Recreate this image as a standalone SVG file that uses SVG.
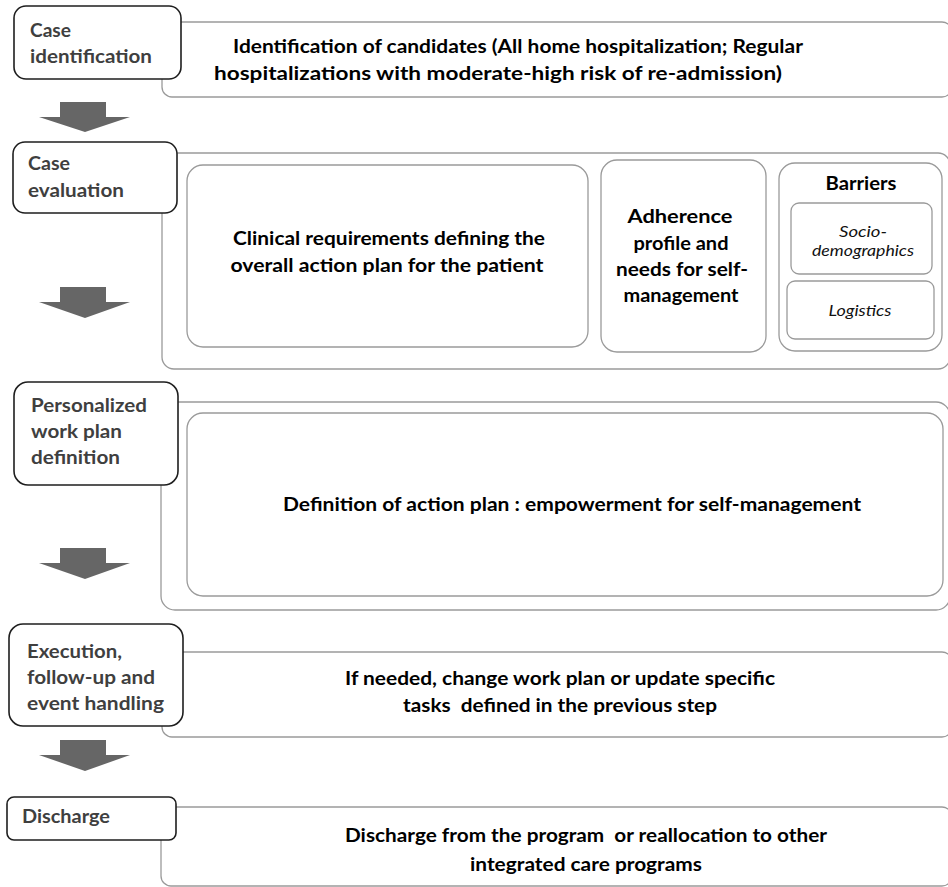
<svg xmlns="http://www.w3.org/2000/svg" width="948" height="887" viewBox="0 0 948 887">
<style>
.panel{fill:#fff;stroke:#9a9a9a;stroke-width:1.3}
.inner{fill:#fff;stroke:#9a9a9a;stroke-width:1.3}
.label{fill:#fff;stroke:#1e1e1e;stroke-width:1.6}
.lt{font-family:Lato,"Open Sans","Liberation Sans",sans-serif;font-weight:700;font-size:18px;fill:#3f3f3f}
.mt{font-family:Lato,"Open Sans","Liberation Sans",sans-serif;font-weight:700;font-size:18px;fill:#000;text-anchor:middle}
.it{font-family:Lato,"Open Sans","Liberation Sans",sans-serif;font-style:italic;font-size:15px;fill:#111;text-anchor:middle}
.pre{white-space:pre}
.arr{fill:#666}
</style>
<rect width="948" height="887" fill="#fff"/>

<g id="step1">
  <rect class="panel" x="162" y="22" width="790" height="75" rx="10"/>
  <rect class="label" x="14" y="6" width="167" height="73" rx="12"/>
  <text class="lt" x="30" y="37" textLength="41" lengthAdjust="spacingAndGlyphs">Case</text>
  <text class="lt" x="30" y="63" textLength="122" lengthAdjust="spacingAndGlyphs">identification</text>
  <text class="mt" x="518" y="53" textLength="570" lengthAdjust="spacingAndGlyphs">Identification of candidates (All home hospitalization; Regular</text>
  <text class="mt" x="498" y="80" textLength="568" lengthAdjust="spacingAndGlyphs">hospitalizations with moderate-high risk of re-admission)</text>
</g>

<g id="step2">
  <rect class="panel" x="162" y="153" width="788" height="216" rx="12"/>
  <rect class="label" x="13" y="142" width="164" height="71" rx="12"/>
  <text class="lt" x="28" y="170" textLength="42" lengthAdjust="spacingAndGlyphs">Case</text>
  <text class="lt" x="28" y="197" textLength="96" lengthAdjust="spacingAndGlyphs">evaluation</text>
  <g id="clinical">
    <rect class="inner" x="187" y="165" width="401" height="182" rx="16"/>
    <text class="mt" x="389" y="245" textLength="312" lengthAdjust="spacingAndGlyphs">Clinical requirements defining the</text>
    <text class="mt" x="387" y="272" textLength="313" lengthAdjust="spacingAndGlyphs">overall action plan for the patient</text>
  </g>
  <g id="adherence">
    <rect class="inner" x="601" y="160" width="165" height="192" rx="16"/>
    <text class="mt" x="680" y="223" textLength="105" lengthAdjust="spacingAndGlyphs">Adherence</text>
    <text class="mt" x="681" y="250" textLength="95" lengthAdjust="spacingAndGlyphs">profile and</text>
    <text class="mt" x="682" y="276" textLength="132" lengthAdjust="spacingAndGlyphs">needs for self-</text>
    <text class="mt" x="681" y="302" textLength="115" lengthAdjust="spacingAndGlyphs">management</text>
  </g>
  <g id="barriers">
    <rect class="inner" x="779" y="163" width="163" height="188" rx="16"/>
    <text class="mt" x="861" y="190" textLength="71" lengthAdjust="spacingAndGlyphs">Barriers</text>
    <g id="socio">
      <rect class="inner" x="791" y="203" width="141" height="71" rx="8"/>
      <text class="it" x="863" y="237" textLength="48" lengthAdjust="spacingAndGlyphs">Socio-</text>
      <text class="it" x="863" y="256" textLength="102" lengthAdjust="spacingAndGlyphs">demographics</text>
    </g>
    <g id="logistics">
      <rect class="inner" x="787" y="281" width="147" height="58" rx="8"/>
      <text class="it" x="860" y="316" textLength="63" lengthAdjust="spacingAndGlyphs">Logistics</text>
    </g>
  </g>
</g>

<g id="step3">
  <rect class="panel" x="161" y="402" width="789" height="208" rx="14"/>
  <rect class="label" x="14" y="382" width="164" height="103" rx="14"/>
  <text class="lt" x="31" y="412" textLength="116" lengthAdjust="spacingAndGlyphs">Personalized</text>
  <text class="lt" x="31" y="438" textLength="91" lengthAdjust="spacingAndGlyphs">work plan</text>
  <text class="lt" x="31" y="464" textLength="89" lengthAdjust="spacingAndGlyphs">definition</text>
  <g id="definition">
    <rect class="inner" x="187" y="413" width="756" height="183" rx="16"/>
    <text class="mt" x="572" y="511" textLength="578" lengthAdjust="spacingAndGlyphs">Definition of action plan : empowerment for self-management</text>
  </g>
</g>

<g id="step4">
  <rect class="panel" x="162" y="652" width="790" height="85" rx="10"/>
  <rect class="label" x="9" y="624" width="174" height="102" rx="14"/>
  <text class="lt" x="27" y="658" textLength="95" lengthAdjust="spacingAndGlyphs">Execution,</text>
  <text class="lt" x="27" y="684" textLength="128" lengthAdjust="spacingAndGlyphs">follow-up and</text>
  <text class="lt" x="27" y="710" textLength="137" lengthAdjust="spacingAndGlyphs">event handling</text>
  <text class="mt" x="560" y="685" textLength="430" lengthAdjust="spacingAndGlyphs">If needed, change work plan or update specific</text>
  <text class="mt pre" x="560" y="712" textLength="314" lengthAdjust="spacingAndGlyphs">tasks  defined in the previous step</text>
</g>

<g id="step5">
  <rect class="panel" x="161" y="807" width="791" height="79" rx="10"/>
  <rect class="label" x="7" y="797" width="169" height="43" rx="7"/>
  <text class="lt" x="22" y="823" textLength="88" lengthAdjust="spacingAndGlyphs">Discharge</text>
  <text class="mt pre" x="586" y="842" textLength="482" lengthAdjust="spacingAndGlyphs">Discharge from the program  or reallocation to other</text>
  <text class="mt" x="586" y="871" textLength="232" lengthAdjust="spacingAndGlyphs">integrated care programs</text>
</g>

<g id="connectors">
  <polygon class="arr" points="60,102 106,102 106,117 130,117 85,132 39,117 60,117"/>
  <polygon class="arr" points="60,287 106,287 106,302 130,302 85,318 39,302 60,302"/>
  <polygon class="arr" points="60,548 106,548 106,563 130,563 85,579 39,563 60,563"/>
  <polygon class="arr" points="60,740 106,740 106,755 130,755 85,771 39,755 60,755"/>
</g>
</svg>
